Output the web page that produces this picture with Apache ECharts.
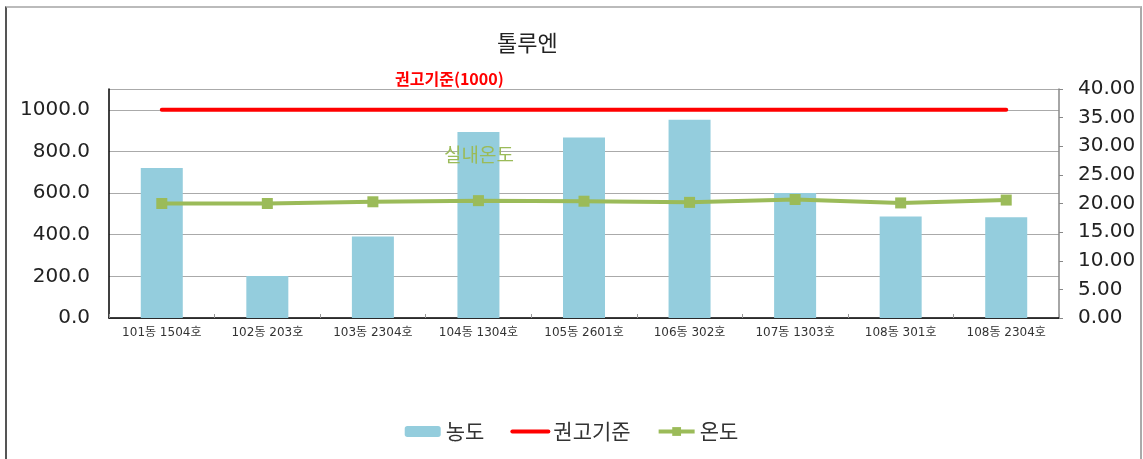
<!DOCTYPE html>
<html>
<head>
<meta charset="utf-8">
<script src="https://cdn.jsdelivr.net/npm/echarts@6/dist/echarts.min.js"></script>
<style>
  html, body { margin: 0; padding: 0; background: #fff; }
  #chart { width: 1143px; height: 459px; }
  #frame {
    position: absolute; left: 5px; top: 6px; width: 1133px; height: 470px;
    border-left: 2px solid #555; border-top: 2px solid #bbb; border-right: 2px solid #aaa;
    pointer-events: none;
  }
</style>
</head>
<body>
<div id="chart"></div>
<div id="frame"></div>
<script>
// 호실 목록
const categories = ['101동 1504호', '102동 203호', '103동 2304호', '104동 1304호', '105동 2601호',
  '106동 302호', '107동 1303호', '108동 301호', '108동 2304호'];
// 톨루엔 농도
const concentration = [720, 202, 391, 893, 867, 952, 600, 487, 484];
// 권고기준
const guideline = [1000, 1000, 1000, 1000, 1000, 1000, 1000, 1000, 1000];
// 실내온도
const temperature = [20.0, 20.0, 20.3, 20.5, 20.4, 20.2, 20.7, 20.1, 20.6];

const font = 'DejaVu Sans, "Noto Sans CJK KR", sans-serif';

const chart = echarts.init(document.getElementById('chart'));

const option = {
  animation: false,
  textStyle: { fontFamily: font },
  title: {
    text: '톨루엔',
    left: 492,
    top: 27,
    textStyle: { fontSize: 22, fontWeight: 'normal', color: '#222', fontFamily: '"Noto Sans CJK KR", sans-serif' }
  },
  graphic: [
    {
      type: 'text', left: 395, top: 71, z: 100,
      style: { text: '권고기준(1000)', fill: '#ff0000', font: 'bold 16px "Noto Sans CJK KR", sans-serif' }
    },
    {
      type: 'text', left: 444, top: 145, z: 100,
      style: { text: '실내온도', fill: '#9bbb59', font: '19px "Noto Sans CJK KR", sans-serif' }
    }
  ],
  legend: {
    bottom: 12,
    left: 'center',
    itemWidth: 36,
    itemHeight: 11,
    itemGap: 26,
    textStyle: { fontSize: 21, color: '#333', fontFamily: '"Noto Sans CJK KR", sans-serif' },
    data: [
      { name: '농도' },
      { name: '권고기준', itemStyle: { opacity: 0 }, lineStyle: { width: 4 } },
      { name: '온도', lineStyle: { width: 4 } }
    ]
  },
  grid: { left: 109, right: 84, top: 89, bottom: 141 },
  xAxis: {
    type: 'category',
    data: categories,
    axisLine: { lineStyle: { color: '#000', width: 1.5 } },
    axisTick: { show: true, inside: true, length: 4, lineStyle: { color: '#999' } },
    axisLabel: { fontSize: 12, color: '#333', margin: 9, interval: 0 }
  },
  yAxis: [
    {
      type: 'value',
      min: 0,
      max: 1100,
      interval: 200,
      position: 'left',
      axisLine: { show: true, lineStyle: { color: '#000', width: 1.5 } },
      axisTick: { show: false },
      axisLabel: {
        fontSize: 20, color: '#222', margin: 19, showMaxLabel: false,
        formatter: v => v.toFixed(1)
      },
      splitLine: { lineStyle: { color: '#aaa' } }
    },
    {
      type: 'value',
      min: 0,
      max: 40,
      interval: 5,
      position: 'right',
      axisLine: { show: true, lineStyle: { color: '#888', width: 1.5 } },
      axisTick: { show: true, length: 4, lineStyle: { color: '#888' } },
      axisLabel: {
        fontSize: 20, color: '#222', margin: 19,
        formatter: v => v.toFixed(2)
      },
      splitLine: { show: false }
    }
  ],
  series: [
    {
      name: '농도',
      type: 'bar',
      data: concentration,
      barWidth: 42,
      itemStyle: { color: '#94cddd' }
    },
    {
      name: '권고기준',
      type: 'line',
      data: guideline,
      symbol: 'none',
      lineStyle: { color: '#ff0000', width: 4, cap: 'round' },
      itemStyle: { color: '#ff0000' }
    },
    {
      name: '온도',
      type: 'line',
      yAxisIndex: 1,
      data: temperature,
      symbol: 'rect',
      symbolSize: 11,
      lineStyle: { color: '#9bbb59', width: 4 },
      itemStyle: { color: '#9bbb59' }
    }
  ]
};

chart.setOption(option);
</script>
</body>
</html>
